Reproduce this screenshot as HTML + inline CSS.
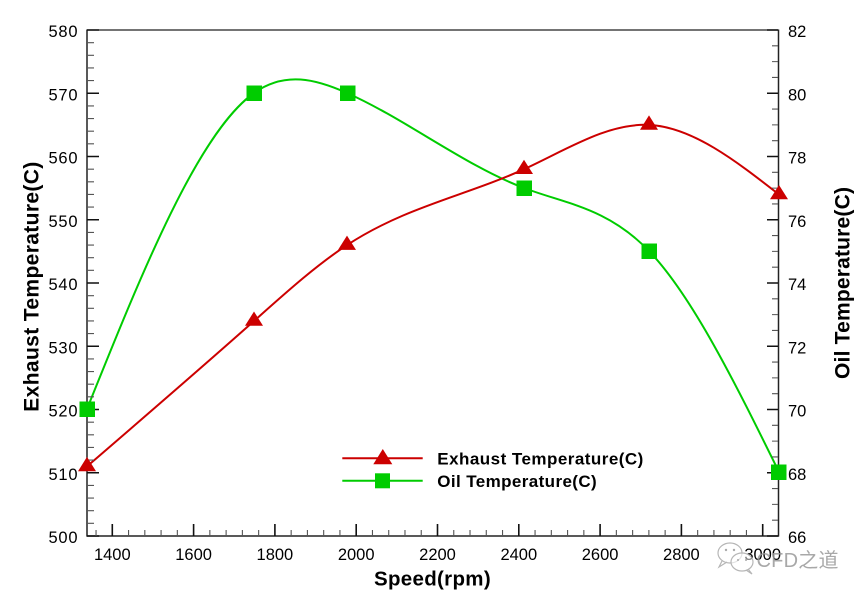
<!DOCTYPE html>
<html><head><meta charset="utf-8"><style>
html,body{margin:0;padding:0;background:#fff;}
svg{display:block;}
text{font-family:"Liberation Sans",Arial,sans-serif;}
</style></head><body>
<svg width="866" height="596" viewBox="0 0 866 596" xmlns="http://www.w3.org/2000/svg">
<rect width="866" height="596" fill="#fff"/>

<!-- curves -->
<path d="M87,409 C142.67,270.35 198.33,132.69 254,93 C285,70.9 316,79.18 347,93 C406,119.3 465,165.65 524,188 C565.67,203.79 607.33,207.61 649,251 C692.33,296.13 735.67,384.07 779,472" fill="none" stroke="#00cc00" stroke-width="2"/>
<path d="M87,466.4 C142.67,418.45 198.33,370.51 254,321 C285,293.43 316,265.37 347,245.1 C406,206.52 465,196.14 524,169.2 C565.67,150.18 607.33,122.9 649,124.9 C692.33,126.98 735.67,160.74 779,194.5" fill="none" stroke="#cc0000" stroke-width="2"/>

<!-- axes frame -->
<g stroke="#222" fill="none">
<line x1="87" y1="30" x2="778.5" y2="30" stroke-width="1.3"/>
<line x1="87" y1="29.5" x2="87" y2="536.5" stroke-width="1.5"/>
<line x1="778.5" y1="29.5" x2="778.5" y2="536.5" stroke-width="1.5"/>
<line x1="86.5" y1="536" x2="779" y2="536" stroke-width="1.5"/>
</g>

<!-- left ticks -->
<path stroke="#111" stroke-width="1.6" d="M87,536H99M87,472.75H99M87,409.5H99M87,346.25H99M87,283H99M87,219.75H99M87,156.5H99M87,93.25H99M87,30H99"/>
<path stroke="#555" stroke-width="1.1" d="M87,523.35H94M87,510.7H94M87,498.05H94M87,485.4H94M87,460.1H94M87,447.45H94M87,434.8H94M87,422.15H94M87,396.85H94M87,384.2H94M87,371.55H94M87,358.9H94M87,333.6H94M87,320.95H94M87,308.3H94M87,295.65H94M87,270.35H94M87,257.7H94M87,245.05H94M87,232.4H94M87,207.1H94M87,194.45H94M87,181.8H94M87,169.15H94M87,143.85H94M87,131.2H94M87,118.55H94M87,105.9H94M87,80.6H94M87,67.95H94M87,55.3H94M87,42.65H94"/>

<!-- right ticks -->
<path stroke="#111" stroke-width="1.6" d="M778,536H767M778,472.75H767M778,409.5H767M778,346.25H767M778,283H767M778,219.75H767M778,156.5H767M778,93.25H767M778,30H767"/>
<path stroke="#555" stroke-width="1.1" d="M778,520.19H772M778,504.38H772M778,488.56H772M778,456.94H772M778,441.13H772M778,425.31H772M778,393.69H772M778,377.88H772M778,362.06H772M778,330.44H772M778,314.63H772M778,298.81H772M778,267.19H772M778,251.38H772M778,235.56H772M778,203.94H772M778,188.13H772M778,172.31H772M778,140.69H772M778,124.88H772M778,109.06H772M778,77.44H772M778,61.63H772M778,45.81H772"/>

<!-- bottom ticks -->
<path stroke="#111" stroke-width="1.6" d="M112.3,536V524M193.6,536V524M274.9,536V524M356.2,536V524M437.5,536V524M518.8,536V524M600.1,536V524M681.4,536V524M762.7,536V524"/>
<path stroke="#555" stroke-width="1.1" d="M96.04,536V530M128.56,536V530M144.82,536V530M161.08,536V530M177.34,536V530M209.86,536V530M226.12,536V530M242.38,536V530M258.64,536V530M291.16,536V530M307.42,536V530M323.68,536V530M339.94,536V530M372.46,536V530M388.72,536V530M404.98,536V530M421.24,536V530M453.76,536V530M470.02,536V530M486.28,536V530M502.54,536V530M535.06,536V530M551.32,536V530M567.58,536V530M583.84,536V530M616.36,536V530M632.62,536V530M648.88,536V530M665.14,536V530M697.66,536V530M713.92,536V530M730.18,536V530M746.44,536V530"/>

<!-- markers: green squares -->
<g fill="#00cc00">
<rect x="79.5" y="401.5" width="15.5" height="15.5"/>
<rect x="246.5" y="85.5" width="15.5" height="15.5"/>
<rect x="340" y="85.5" width="15.5" height="15.5"/>
<rect x="516.5" y="180.5" width="15.5" height="15.5"/>
<rect x="641.5" y="243.5" width="15.5" height="15.5"/>
<rect x="771" y="464.5" width="15.5" height="15.5"/>
</g>
<!-- markers: red triangles -->
<g fill="#cc0000">
<polygon points="87,456.9 78,471.2 96,471.2"/>
<polygon points="254,311.5 245,325.8 263,325.8"/>
<polygon points="347,235.6 338,249.9 356,249.9"/>
<polygon points="524,159.7 515,174 533,174"/>
<polygon points="649,115.4 640,129.7 658,129.7"/>
<polygon points="779,185 770,199.3 788,199.3"/>
</g>

<!-- left tick labels -->
<g font-size="16.5" fill="#000" text-anchor="end">
<text x="77.5" y="543" textLength="29">500</text>
<text x="77.5" y="479.75" textLength="29">510</text>
<text x="77.5" y="416.5" textLength="29">520</text>
<text x="77.5" y="353.25" textLength="29">530</text>
<text x="77.5" y="290" textLength="29">540</text>
<text x="77.5" y="226.75" textLength="29">550</text>
<text x="77.5" y="163.5" textLength="29">560</text>
<text x="77.5" y="100.25" textLength="29">570</text>
<text x="77.5" y="37" textLength="29">580</text>
</g>
<!-- right tick labels -->
<g font-size="16.5" fill="#000">
<text x="788" y="543">66</text>
<text x="788" y="479.75">68</text>
<text x="788" y="416.5">70</text>
<text x="788" y="353.25">72</text>
<text x="788" y="290">74</text>
<text x="788" y="226.75">76</text>
<text x="788" y="163.5">78</text>
<text x="788" y="100.25">80</text>
<text x="788" y="37">82</text>
</g>
<!-- bottom tick labels -->
<g font-size="16.5" fill="#000" text-anchor="middle">
<text x="112.3" y="560">1400</text>
<text x="193.6" y="560">1600</text>
<text x="274.9" y="560">1800</text>
<text x="356.2" y="560">2000</text>
<text x="437.5" y="560">2200</text>
<text x="518.8" y="560">2400</text>
<text x="600.1" y="560">2600</text>
<text x="681.4" y="560">2800</text>
<text x="762.7" y="560">3000</text>
</g>

<!-- axis titles -->
<text x="432.3" y="585.5" font-size="20.5" font-weight="bold" text-anchor="middle" textLength="116.7">Speed(rpm)</text>
<text transform="translate(38.5,286.7) rotate(-90)" font-size="21" font-weight="bold" text-anchor="middle" textLength="250">Exhaust Temperature(C)</text>
<text transform="translate(849.5,283) rotate(-90)" font-size="21" font-weight="bold" text-anchor="middle" textLength="192">Oil Temperature(C)</text>

<!-- legend -->
<line x1="342.3" y1="458.3" x2="422.7" y2="458.3" stroke="#cc0000" stroke-width="2"/>
<polygon points="382.8,449 373.3,464.3 392.3,464.3" fill="#cc0000"/>
<line x1="342.3" y1="480.7" x2="422.7" y2="480.7" stroke="#00cc00" stroke-width="2"/>
<rect x="375" y="473.3" width="15" height="15" fill="#00cc00"/>
<text x="437.3" y="464.5" font-size="17" font-weight="bold" textLength="206">Exhaust Temperature(C)</text>
<text x="437.3" y="487" font-size="17" font-weight="bold" textLength="159.4">Oil Temperature(C)</text>

<!-- watermark -->
<g fill="none" stroke="#aaa" stroke-width="1.2" opacity="0.85">
<ellipse cx="730" cy="553" rx="12" ry="10"/>
<ellipse cx="742" cy="562" rx="11" ry="9" fill="#fff" fill-opacity="0.6"/>
<path d="M722,561 L719,567 L727,562"/>
<path d="M748,569 L752,574 L746,570"/>
</g>
<g fill="#aaa">
<circle cx="726" cy="550" r="1.2"/><circle cx="734" cy="550" r="1.2"/>
<circle cx="738" cy="560" r="1"/><circle cx="746" cy="560" r="1"/>
</g>
<text x="756.5" y="567" font-size="20" fill="#999" opacity="0.85" textLength="82" font-family="'Liberation Sans','Noto Sans CJK SC',sans-serif">CFD之道</text>
</svg>
</body></html>
